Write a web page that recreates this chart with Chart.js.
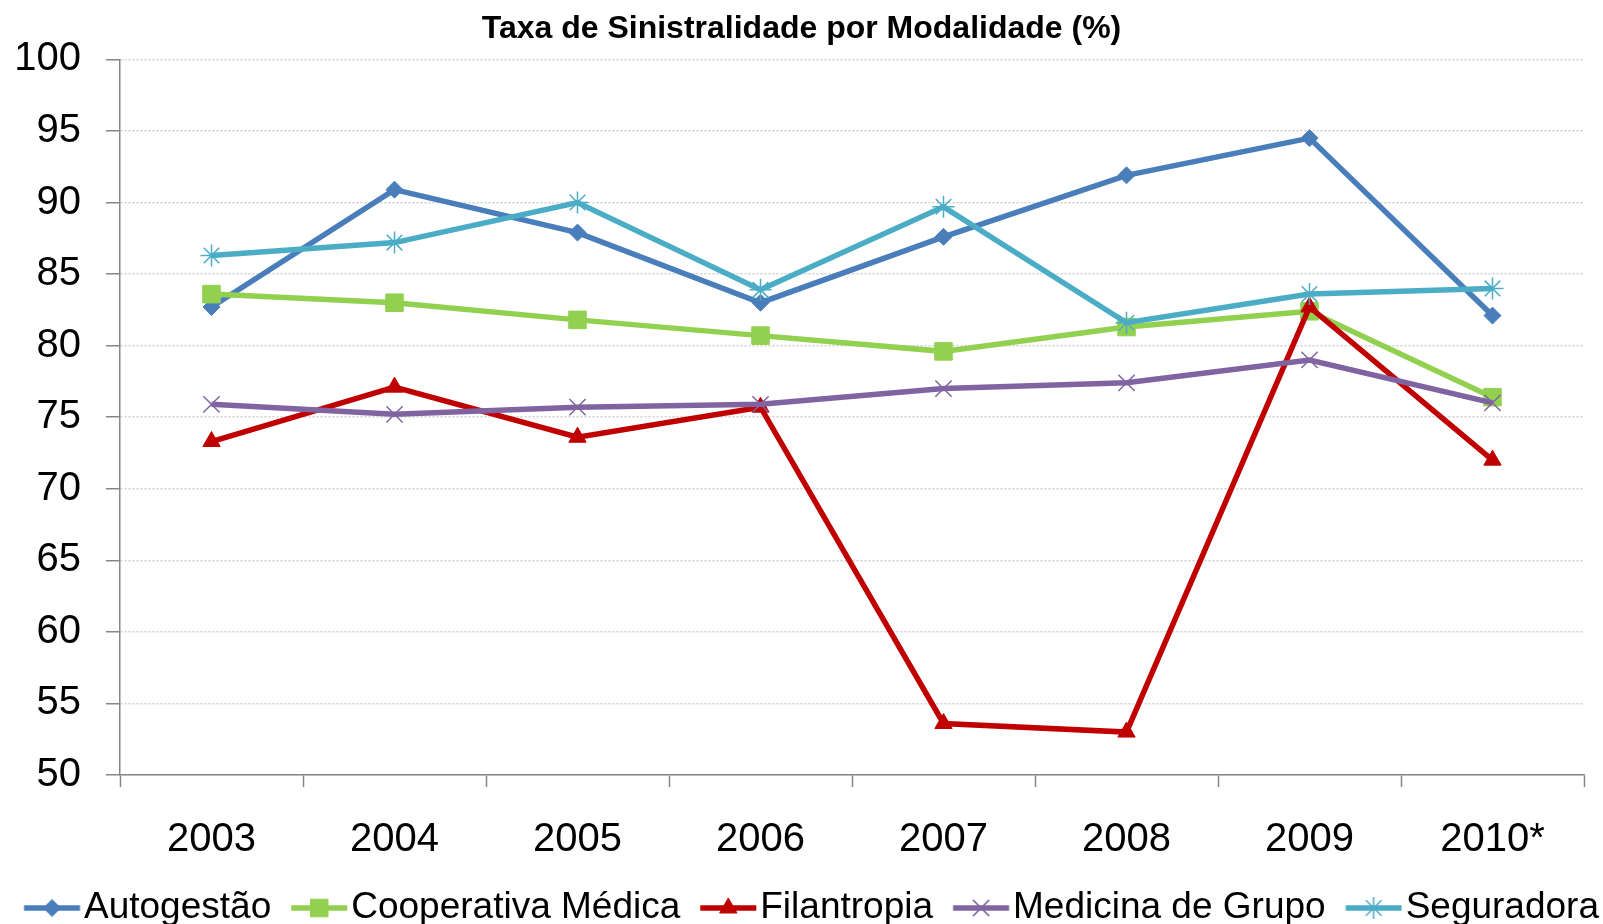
<!DOCTYPE html>
<html>
<head>
<meta charset="utf-8">
<title>Taxa de Sinistralidade por Modalidade (%)</title>
<script src="https://cdn.jsdelivr.net/npm/chart.js@4.4.1/dist/chart.umd.min.js"></script>
<style>
  html, body { margin: 0; padding: 0; background: #fff; }
  #wrap { width: 1603px; height: 924px; }
</style>
</head>
<body>
<div id="wrap"><canvas id="grafico"></canvas></div>
<script>
// dados
const anos = ['2003', '2004', '2005', '2006', '2007', '2008', '2009', '2010*'];
const autogestao  = [82.7, 90.9, 87.9, 83.0, 87.6, 91.9, 94.5, 82.1];
const cooperativa = [83.6, 83.0, 81.8, 80.7, 79.6, 81.3, 82.4, 76.4];
const filantropia = [73.3, 77.1, 73.6, 75.7, 53.6, 53.0, 82.7, 72.0];
const medicina    = [75.9, 75.2, 75.7, 75.9, 77.0, 77.4, 79.0, 76.0];
const seguradora  = [86.3, 87.2, 90.0, 83.9, 89.7, 81.6, 83.6, 84.0];
const yMin = 50, yMax = 100, yPasso = 5;

const fonte = "'Liberation Sans', Arial, sans-serif";
Chart.defaults.font.family = fonte;
Chart.defaults.color = '#000';

const tamLegenda = 37;

function serie(label, data, cor, estilo, raio, bw, i) {
  return {
    label: label,
    data: data,
    borderColor: cor,
    backgroundColor: cor,
    borderWidth: 5.5,
    tension: 0,
    pointStyle: estilo,
    pointRadius: raio,
    pointBorderWidth: bw,
    pointBorderColor: cor,
    pointBackgroundColor: cor,
    order: -i   // ultima serie por cima, como no Excel
  };
}

const datasets = [
  serie('Autogestão', autogestao, '#4A7EBB', 'rectRot', 8.5, 1, 0),
  serie('Cooperativa Médica', cooperativa, '#92D050', 'rect', 12.4, 1, 1),
  serie('Filantropia', filantropia, '#C00000', 'triangle', 10, 1, 2),
  serie('Medicina de Grupo', medicina, '#8064A2', 'crossRot', 11.5, 1.5, 3),
  serie('Seguradora', seguradora, '#4BACC6', 'star', 11, 1.5, 4)
];

// icone da legenda: linha + marcador, deslocado para a direita dentro da imagem
// (a caixa do Chart.js fica mais larga e o espaco sobra entre os itens)
const larguraCaixa = 61.5;
function iconeLegenda(ds) {
  const c = document.createElement('canvas');
  c.width = 92; c.height = 28;
  const g = c.getContext('2d');
  const x0 = 46 - 10.75, x1 = x0 + 56, xm = (x0 + x1) / 2;
  g.strokeStyle = ds.borderColor;
  g.lineWidth = 5.5;
  g.beginPath(); g.moveTo(x0, 14); g.lineTo(x1, 14); g.stroke();
  g.fillStyle = ds.pointBackgroundColor;
  g.strokeStyle = ds.pointBorderColor;
  g.lineWidth = ds.pointBorderWidth;
  Chart.helpers.drawPoint(g, {pointStyle: ds.pointStyle, radius: ds.pointRadius, borderWidth: ds.pointBorderWidth, rotation: 0}, xm, 14);
  return c;
}

new Chart(document.getElementById('grafico'), {
  type: 'line',
  data: { labels: anos, datasets: datasets },
  options: {
    responsive: true,
    maintainAspectRatio: false,
    animation: false,
    layout: { padding: { left: 0, right: 0, top: 0, bottom: -12.5 } },
    plugins: {
      title: {
        display: true,
        text: 'Taxa de Sinistralidade por Modalidade (%)',
        font: { size: 32, weight: 'bold' },
        color: '#000',
        padding: { top: 10, bottom: 11 }
      },
      legend: {
        position: 'bottom',
        labels: {
          usePointStyle: true,
          pointStyleWidth: larguraCaixa,
          padding: 0,
          font: { size: tamLegenda },
          color: '#000',
          generateLabels: function (chart) {
            return chart.data.datasets.map(function (ds, i) {
              return {
                text: ds.label,
                pointStyle: iconeLegenda(ds),
                fillStyle: ds.borderColor,
                strokeStyle: ds.borderColor,
                lineWidth: 0,
                hidden: false,
                datasetIndex: i
              };
            });
          }
        }
      },
      tooltip: { enabled: false }
    },
    scales: {
      x: {
        offset: true,
        afterFit: function (s) { s.height = 114.5; s.paddingRight = 19; },
        grid: {
          offset: true,
          drawOnChartArea: false,
          drawTicks: true,
          tickLength: 12,
          tickColor: '#868686',
          tickWidth: 1.5
        },
        border: { color: '#868686', width: 1.5 },
        ticks: { font: { size: 40 }, color: '#000', padding: 29, maxRotation: 0, autoSkip: false }
      },
      y: {
        min: yMin,
        max: yMax,
        afterFit: function (s) { s.width = 120; },
        grid: {
          color: '#d0d0d0',
          lineWidth: 1.5,
          tickColor: '#868686',
          tickLength: 14,
          tickWidth: 1.5,
          tickBorderDash: []
        },
        border: { color: '#868686', width: 1.5, dash: [2, 2] },
        ticks: { stepSize: yPasso, font: { size: 40 }, color: '#000', padding: 25 }
      }
    }
  }
});
</script>
</body>
</html>
